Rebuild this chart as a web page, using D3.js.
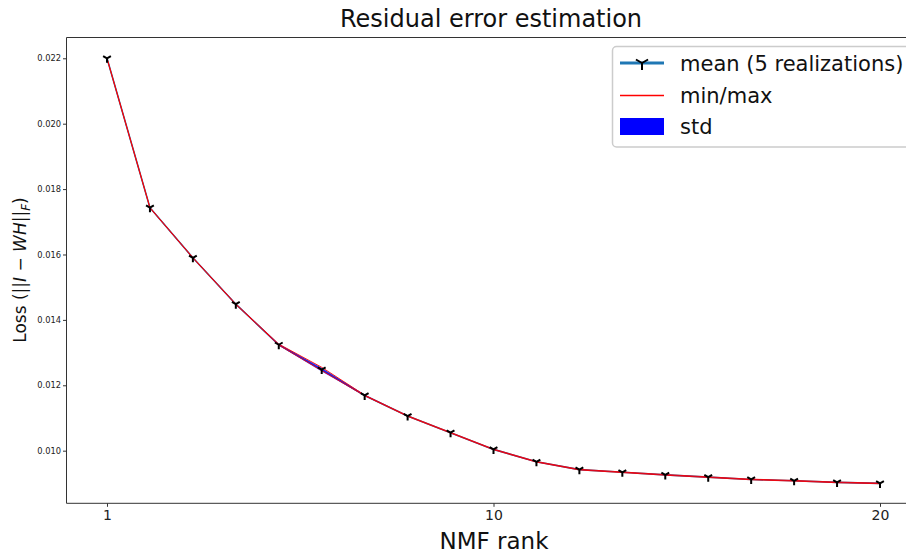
<!DOCTYPE html>
<html>
<head>
<meta charset="utf-8">
<script src="https://cdn.jsdelivr.net/npm/d3@7"></script>
<style>
  body { margin: 0; background: #fff; }
  svg { display: block; font-family: "DejaVu Sans", sans-serif; }
</style>
</head>
<body>
<div id="chart"></div>
<script>
// x positions of the 19 runs, with the rank labels shown on the axis
var steps = [0, 1, 2, 3, 4, 5, 6, 7, 8, 9, 10, 11, 12, 13, 14, 15, 16, 17, 18];
var xTickSteps = [0, 9, 18];
var xTickLabels = ["1", "10", "20"];
var yTicks = [0.010, 0.012, 0.014, 0.016, 0.018, 0.020, 0.022];

var meanLoss = [0.02200, 0.01743, 0.01590, 0.01448, 0.01324, 0.01248, 0.01169, 0.01106, 0.01055,
                0.01004, 0.00966, 0.00942, 0.00934, 0.00926, 0.00919, 0.00912, 0.00908, 0.00903, 0.00900];
var stdLoss  = [0.00001, 0.00001, 0.00001, 0.00001, 0.00002, 0.00006, 0.00002, 0.00001, 0.00001,
                0.00001, 0.00001, 0.00001, 0.00001, 0.00001, 0.00001, 0.00001, 0.00001, 0.00001, 0.00001];
var minLoss  = [0.02199, 0.01742, 0.01589, 0.01447, 0.01323, 0.01245, 0.01168, 0.01105, 0.01054,
                0.01003, 0.00965, 0.00941, 0.00933, 0.00925, 0.00918, 0.00911, 0.00907, 0.00902, 0.00899];
var maxLoss  = [0.02201, 0.01744, 0.01591, 0.01449, 0.01326, 0.01255, 0.01170, 0.01107, 0.01056,
                0.01005, 0.00967, 0.00943, 0.00935, 0.00927, 0.00920, 0.00913, 0.00909, 0.00904, 0.00901];

var width = 906, height = 554;
var plot = { left: 66.5, top: 37.5, right: 920.5, bottom: 503.3 };

var svg = d3.select("#chart").append("svg")
            .attr("width", width)
            .attr("height", height);

var x = d3.scaleLinear()
          .domain([-0.943, 18.943])
          .range([plot.left, plot.right]);

var y = d3.scaleLinear()
          .domain([0.008391, 0.022636])
          .range([plot.bottom, plot.top]);

// std band, mean line, min/max lines
var band = d3.area()
             .x((d, i) => x(steps[i]))
             .y0((d, i) => y(meanLoss[i] - stdLoss[i]))
             .y1((d, i) => y(meanLoss[i] + stdLoss[i]));

var line = d3.line().x((d, i) => x(steps[i])).y(d => y(d));

svg.append("path")
   .attr("d", line(meanLoss))
   .attr("fill", "none")
   .attr("stroke", "#1f77b4")
   .attr("stroke-width", 1.6);

svg.append("path")
   .attr("d", band(meanLoss))
   .attr("fill", "#0000ff")
   .attr("fill-opacity", 0.7);

[minLoss, maxLoss].forEach(s => {
  svg.append("path")
     .attr("d", line(s))
     .attr("fill", "none")
     .attr("stroke", "#ff0000")
     .attr("stroke-width", 0.9);
});

// tri_down markers
function triDown(r) {
  return "M0,0L0," + r + "M0,0L" + (-0.866 * r) + "," + (-0.5 * r) + "M0,0L" + (0.866 * r) + "," + (-0.5 * r);
}

svg.append("g")
  .selectAll("path")
  .data(meanLoss)
  .enter().append("path")
    .attr("transform", (d, i) => "translate(" + x(steps[i]) + "," + y(d) + ")")
    .attr("d", triDown(4.5))
    .attr("stroke", "#000")
    .attr("stroke-width", 2)
    .attr("fill", "none");

// spines
svg.append("path")
   .attr("d", "M" + plot.right + "," + plot.top + "H" + plot.left + "V" + plot.bottom + "H" + plot.right)
   .attr("fill", "none")
   .attr("stroke", "#333")
   .attr("stroke-width", 1);

// y axis
var yAxis = svg.append("g")
  .attr("transform", "translate(" + plot.left + ",0)")
  .call(d3.axisLeft(y).tickValues(yTicks).tickFormat(d3.format(".3f")).tickSize(3.5).tickPadding(2));
yAxis.select(".domain").remove();
yAxis.selectAll("line").attr("stroke", "#333");
yAxis.selectAll("text").attr("font-size", 8.3).attr("fill", "#222").attr("font-family", "DejaVu Sans");

// x axis
var xAxis = svg.append("g")
  .attr("transform", "translate(0," + plot.bottom + ")")
  .call(d3.axisBottom(x).tickValues(xTickSteps).tickFormat((d, i) => xTickLabels[i]).tickSize(3.5).tickPadding(3));
xAxis.select(".domain").remove();
xAxis.selectAll("line").attr("stroke", "#333");
xAxis.selectAll("text").attr("font-size", 14).attr("fill", "#222").attr("font-family", "DejaVu Sans");

// titles
svg.append("text")
   .attr("x", 491).attr("y", 27)
   .attr("text-anchor", "middle")
   .attr("font-size", 24)
   .attr("fill", "#111")
   .text("Residual error estimation");

svg.append("text")
   .attr("x", 494).attr("y", 549)
   .attr("text-anchor", "middle")
   .attr("font-size", 23)
   .attr("fill", "#111")
   .text("NMF rank");

var ylab = svg.append("text")
   .attr("transform", "translate(26,270) rotate(-90)")
   .attr("text-anchor", "middle")
   .attr("font-size", 17)
   .attr("fill", "#111");
ylab.append("tspan").text("Loss (||");
ylab.append("tspan").attr("font-style", "italic").text("I");
ylab.append("tspan").text(" \u2212 ");
ylab.append("tspan").attr("font-style", "italic").text("WH");
ylab.append("tspan").text("||");
ylab.append("tspan").attr("font-style", "italic").attr("font-size", 12).attr("dy", 4).text("F");
ylab.append("tspan").attr("dy", -4).text(")");

// legend
var legend = svg.append("g");
legend.append("rect")
      .attr("x", 612.5).attr("y", 46.5)
      .attr("width", 310).attr("height", 100.5)
      .attr("rx", 4)
      .attr("fill", "#fff").attr("fill-opacity", 0.8)
      .attr("stroke", "#ccc").attr("stroke-width", 1.5);

legend.append("line")
      .attr("x1", 620).attr("x2", 664).attr("y1", 63).attr("y2", 63)
      .attr("stroke", "#1f77b4").attr("stroke-width", 3);
legend.append("path")
      .attr("transform", "translate(642,63)")
      .attr("d", triDown(7))
      .attr("stroke", "#000").attr("stroke-width", 2).attr("fill", "none");
legend.append("line")
      .attr("x1", 620).attr("x2", 664).attr("y1", 95.5).attr("y2", 95.5)
      .attr("stroke", "#ff0000").attr("stroke-width", 1.5);
legend.append("rect")
      .attr("x", 620).attr("y", 118).attr("width", 44).attr("height", 17)
      .attr("fill", "#0000ff");

var legendLabels = ["mean (5 realizations)", "min/max", "std"];
legend.selectAll("text.lab")
  .data(legendLabels)
  .enter().append("text")
    .attr("class", "lab")
    .attr("x", 680)
    .attr("y", (d, i) => 71 + i * 31.5)
    .attr("font-size", 21)
    .attr("fill", "#111")
    .text(d => d);
</script>
</body>
</html>
